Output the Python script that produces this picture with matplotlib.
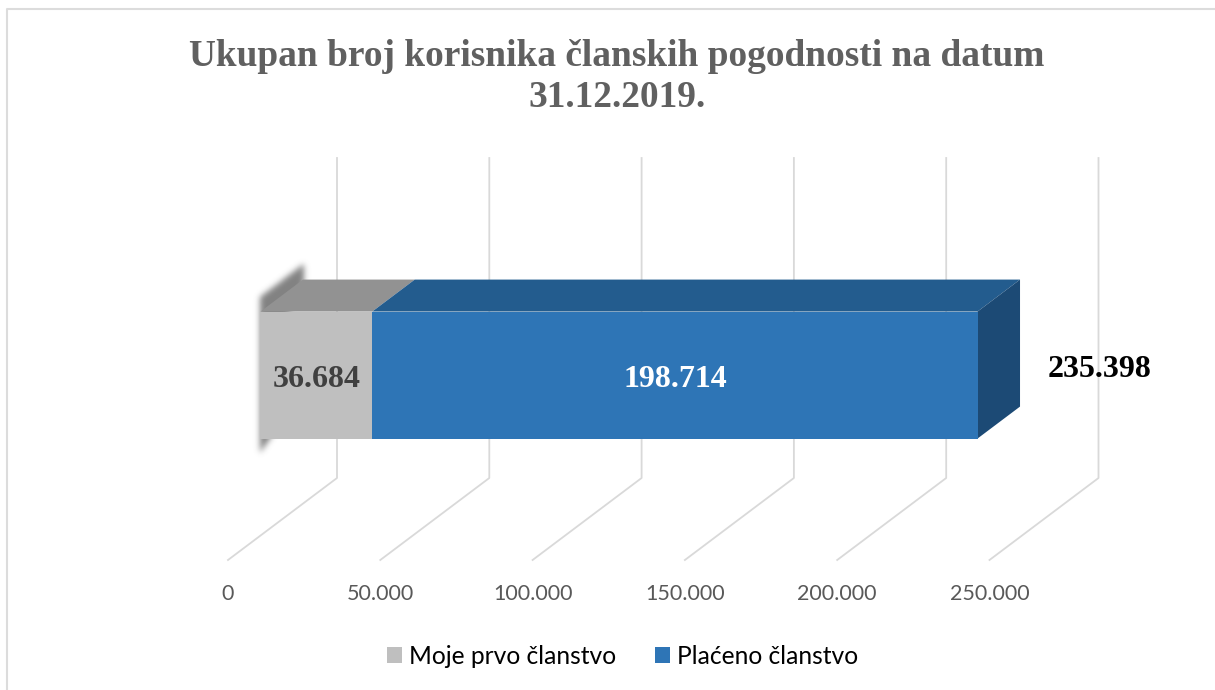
import matplotlib
matplotlib.use("Agg")
import matplotlib.pyplot as plt
import numpy as np
from matplotlib.lines import Line2D
from matplotlib.patches import Polygon, Patch
from matplotlib.path import Path

title = "Ukupan broj korisnika članskih pogodnosti na datum\n31.12.2019."
series_names = ["Moje prvo članstvo", "Plaćeno članstvo"]
series_values = [36684, 198714]
series_colors = ["#bfbfbf", "#2e75b6"]
top_colors = ["#929292", "#235c8e"]
side_color = "#1c4a75"
label_colors = ["#404040", "#ffffff"]
tick_values = [0, 50000, 100000, 150000, 200000, 250000]
tick_labels = ["0", "50.000", "100.000", "150.000", "200.000", "250.000"]

W, H = 1215, 690
AX_H = 570
SCALE = 152.3 / 50000   # px per member
X0 = 228                # px of value 0 on front floor edge
FLOOR_Y = 560
DEPTH_X, DEPTH_Y = 109, 82
WALL_TOP = 158
BAR_D0, BAR_D1 = 32.5 / 109, 75 / 109
BAR_H0, BAR_H1 = 97, 224


def pt(value, depth=0.0, height=0.0):
    # value along the axis, depth 0-1 into the chart, height in px above the floor
    return (value + depth * DEPTH_X / SCALE, FLOOR_Y - depth * DEPTH_Y - height)


def fmt(v):
    return f"{v:,}".replace(",", ".")


def box(ax, v0, v1, front, top, side=None):
    ax.add_patch(Polygon([pt(v0, BAR_D0, BAR_H1), pt(v1, BAR_D0, BAR_H1),
                          pt(v1, BAR_D1, BAR_H1), pt(v0, BAR_D1, BAR_H1)],
                         fc=top, ec="none", zorder=4))
    if side:
        ax.add_patch(Polygon([pt(v1, BAR_D0, BAR_H0), pt(v1, BAR_D1, BAR_H0),
                              pt(v1, BAR_D1, BAR_H1), pt(v1, BAR_D0, BAR_H1)],
                             fc=side, ec="none", zorder=4))
    ax.add_patch(Polygon([pt(v0, BAR_D0, BAR_H0), pt(v1, BAR_D0, BAR_H0),
                          pt(v1, BAR_D0, BAR_H1), pt(v0, BAR_D0, BAR_H1)],
                         fc=front, ec="none", zorder=5))


def blurred_shadow(ax, points, sigma=3, alpha=0.85, pad=12):
    # rasterise the polygon on a 1px grid, gaussian blur it, show it as an image
    pts = np.array(points)
    px = X0 + pts[:, 0] * SCALE
    py = pts[:, 1]
    x0, x1 = int(px.min()) - pad, int(px.max()) + pad
    y0, y1 = int(py.min()) - pad, int(py.max()) + pad
    gx, gy = np.meshgrid(np.arange(x0, x1) + 0.5, np.arange(y0, y1) + 0.5)
    inside = Path(np.column_stack([px, py])).contains_points(np.column_stack([gx.ravel(), gy.ravel()]))
    mask = inside.reshape(gx.shape).astype(float)
    k = np.exp(-0.5 * (np.arange(-9, 10) / sigma) ** 2)
    k /= k.sum()
    mask = np.apply_along_axis(lambda r: np.convolve(r, k, mode="same"), 0, mask)
    mask = np.apply_along_axis(lambda r: np.convolve(r, k, mode="same"), 1, mask)
    rgba = np.zeros(mask.shape + (4,))
    rgba[..., :3] = 0.42
    rgba[..., 3] = mask * alpha
    ax.imshow(rgba, extent=((x0 - X0) / SCALE, (x1 - X0) / SCALE, y1, y0), aspect="auto",
              interpolation="bilinear", zorder=2)


def main():
    plt.rcParams["font.family"] = ["Lato", "DejaVu Sans"]
    fig = plt.figure(figsize=(W / 100, H / 100), dpi=100)

    # outer chart border, only the top and left edges are inside the crop
    fig.add_artist(Line2D([7 / W, 7 / W, 1], [0, 1 - 8.5 / H, 1 - 8.5 / H],
                          transform=fig.transFigure, color="#dcdcdc", lw=1.5))

    ax = fig.add_axes([0, 1 - AX_H / H, 1, AX_H / H])
    for s in ax.spines.values():
        s.set_visible(False)
    ax.patch.set_alpha(0)

    # wall and floor gridlines
    for v in tick_values:
        xs, ys = zip(pt(v), pt(v, 1), (pt(v, 1)[0], WALL_TOP))
        ax.plot(xs, ys, color="#d9d9d9", lw=1.3, zorder=1)

    # soft shadow behind the first segment
    blurred_shadow(ax, [pt(0, BAR_D0 - 0.005, BAR_H1 + 15), pt(0, BAR_D1 + 0.01, BAR_H1 + 15),
                        pt(0, BAR_D1 + 0.01, BAR_H1 - 4), pt(0, BAR_D0 + 0.2, BAR_H1 - 30),
                        pt(0, BAR_D0 + 0.25, BAR_H0), pt(0, BAR_D0 + 0.2, BAR_H0 + 1),
                        pt(0, BAR_D0 - 0.005, BAR_H0 - 14)])

    # stacked 3D bar
    start = 0
    for i, v in enumerate(series_values):
        box(ax, start, start + v, series_colors[i], top_colors[i],
            side_color if i == len(series_values) - 1 else None)
        x, y = pt(start + v / 2, BAR_D0, (BAR_H0 + BAR_H1) / 2)
        ax.text(x, y + 4, fmt(v), family="Liberation Serif", weight="bold", fontsize=23,
                color=label_colors[i], ha="center", va="center", zorder=6)
        start += v

    x, y = pt(start, BAR_D1, (BAR_H0 + BAR_H1) / 2)
    ax.text(x + 28 / SCALE, y + 26, fmt(start), family="Liberation Serif", weight="bold", fontsize=23,
            color="black", ha="left", va="center", zorder=6)

    # limits and ticks last, imshow would change them otherwise
    ax.set_xlim(-X0 / SCALE, (W - X0) / SCALE)
    ax.set_ylim(AX_H, 0)
    ax.set_yticks([])
    ax.set_xticks(tick_values)
    ax.set_xticklabels(tick_labels, fontsize=15.5, color="#595959")
    ax.tick_params(axis="x", length=0, pad=9.8)

    fig.text(617 / W, 1 - 77 / H, title, family="Liberation Serif", weight="bold", fontsize=26.9,
             color="#606060", ha="center", va="center", linespacing=1.2)

    handles = [Patch(fc=c, ec="none") for c in series_colors]
    fig.legend(handles, series_names, loc="center", bbox_to_anchor=(622.5 / W, 1 - 656 / H),
               ncol=2, frameon=False, fontsize=17.7, labelcolor="black", handlelength=0.62,
               handleheight=0.62, handletextpad=0.28, columnspacing=1.55)

    fig.savefig("out.png", dpi=100)
    plt.close(fig)


if __name__ == "__main__":
    main()
